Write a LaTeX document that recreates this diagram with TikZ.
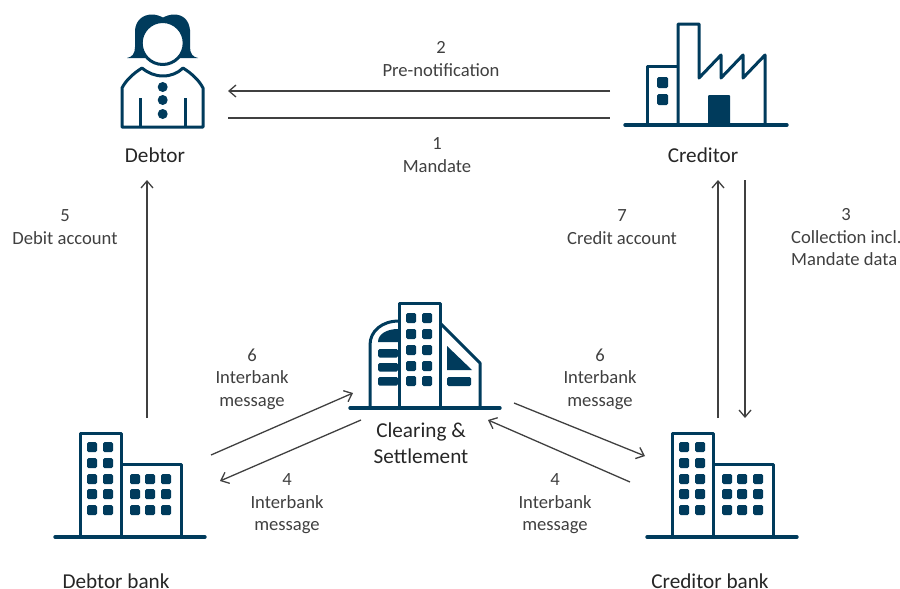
\documentclass[tikz,border=0pt]{standalone}
\usepackage{fontspec}
\setmainfont{Carlito}
\definecolor{iconblue}{HTML}{003B5C}
\definecolor{labelgray}{HTML}{404040}
\definecolor{flowgray}{HTML}{404040}
\tikzset{
    icon/.style = {draw=iconblue, line width=3pt, line join=round},
    ground/.style = {draw=iconblue, line width=3.4pt, line cap=round},
    pane/.style = {fill=iconblue, rounded corners=1.5pt},
    flow/.style = {draw=flowgray, line width=1.3pt, -{Straight Barb[length=7pt,width=12pt,line width=1.3pt]}},
    plainflow/.style = {draw=flowgray, line width=1.3pt},
    lbl/.style = {align=center, text=labelgray, inner sep=0pt, font=\fontsize{18.6}{22.5}\selectfont},
    actor/.style = {text=black!85, inner sep=0pt, font=\fontsize{21.2}{26}\selectfont},
    bank/.pic = {
        \draw[icon] (80,537) -- (80,433) -- (121,433) -- (121,537);
        \draw[icon] (121,464) -- (181,464) -- (181,537);
        \draw[ground] (55,537) -- (205,537);
        \foreach \x in {92,108}
            \foreach \y in {447,463,479,494,510}
                \fill[pane] (\x-5,\y-5) rectangle (\x+5,\y+5);
        \foreach \x in {135,150,166}
            \foreach \y in {479,494,510}
                \fill[pane] (\x-5,\y-5) rectangle (\x+5,\y+5);
    }
}
\usetikzlibrary{arrows.meta}
\begin{document}
\begin{tikzpicture}[x=1pt, y=-1pt]
    \useasboundingbox (0,0) rectangle (900,589);

    % debtor
    \fill[iconblue] (127,58) .. controls (132,57) and (135,54) .. (135,47) -- (135,30)
        .. controls (136,20) and (143,14.5) .. (152,14.5) .. controls (156,14.5) and (160,16) .. (163,17.5)
        .. controls (166,16) and (170,14.5) .. (174,14.5) .. controls (183,14.5) and (189,20) .. (190,30)
        -- (190,47) .. controls (190,54) and (193,57) .. (198,58) -- cycle;
    \draw[icon, fill=white] (162.7,43) circle (21.5);
    \draw[icon] (122,127) -- (122,88) .. controls (126,80) and (134,73) .. (142,68)
        .. controls (148,73) and (155,76) .. (163,76) .. controls (171,76) and (178,73) .. (183,68)
        .. controls (191,73) and (199,80) .. (203,88) -- (203,127) -- cycle;
    \draw[icon] (140,98) -- (140,127);
    \draw[icon] (185,98) -- (185,127);
    \foreach \y in {87,100,114}
        \fill[iconblue] (162.7,\y) circle (5);

    % creditor
    \draw[icon] (647,125) -- (647,66) -- (678,66);
    \draw[icon] (678,125) -- (678,24) -- (699,24) -- (699,78) -- (721,55) -- (721,78) -- (743,55)
        -- (743,78) -- (765,55) -- (765,125);
    \draw[ground] (625,125) -- (787,125);
    \fill[pane] (657,77) rectangle (668,88);
    \fill[pane] (657,94) rectangle (668,105);
    \fill[iconblue, rounded corners=1pt] (708,125) -- (708,95) -- (730,95) -- (730,125) -- cycle;

    % clearing house
    \draw[icon] (370,408) -- (370,345) .. controls (370,331) and (382,321) .. (399,321);
    \draw[icon] (399,408) -- (399,303) -- (440,303) -- (440,408);
    \draw[icon] (440,323) -- (480,363) -- (480,408);
    \draw[ground] (350,408) -- (500,408);
    \foreach \x in {411,427}
        \foreach \y in {318,334,350,366,381}
            \fill[pane] (\x-5,\y-5) rectangle (\x+5,\y+5);
    \fill[iconblue] (378,342) .. controls (378,334) and (387,329) .. (398,329) -- (398,342) -- cycle;
    \foreach \y in {349,363,377}
        \fill[pane] (378,\y) rectangle (398,\y+8.5);
    \fill[iconblue] (447,346) -- (472,370) -- (447,370) -- cycle;
    \fill[pane] (447,377) rectangle (471,386);

    % banks
    \pic (debtorbank) at (0,0) {bank};
    \pic (creditorbank) at (592,0) {bank};

    % names
    \node[actor] (debtor) at (155,155) {Debtor};
    \node[actor] (creditor) at (703,155) {Creditor};
    \node[actor] (debtorname) at (116,581) {Debtor bank};
    \node[actor] (creditorname) at (710,581) {Creditor bank};
    \node[actor, align=center] (clearing) at (421,443) {Clearing \&\\Settlement};

    % step labels
    \node[lbl] (prenote) at (441,59) {2\\Pre-notification};
    \node[lbl] (mandate) at (437,155) {1\\Mandate};
    \node[lbl] (debit) at (65,227) {5\\Debit account};
    \node[lbl] (credit) at (622,227) {7\\Credit account};
    \node[lbl] (collnum) at (846,215) {3};
    \node[lbl, align=left, anchor=west] (collection) at (791,248) {Collection incl.\\Mandate data};
    \node[lbl] (msgsixl) at (252,379) {6\\Interbank\\message};
    \node[lbl] (msgfourl) at (287,504) {4\\Interbank\\message};
    \node[lbl] (msgsixr) at (600,379) {6\\Interbank\\message};
    \node[lbl] (msgfourr) at (555,504) {4\\Interbank\\message};

    % connector ends
    \coordinate (credleft) at (610,91);
    \coordinate (debtright) at (228,91);
    \coordinate (debtlow) at (228,118);
    \coordinate (credlow) at (610,118);
    \coordinate (dbankup) at (147,418);
    \coordinate (debtdown) at (147,180);
    \coordinate (cbankup) at (718,418);
    \coordinate (credup) at (718,180);
    \coordinate (creddown) at (745,180);
    \coordinate (cbankdown) at (745,418);
    \coordinate (dbankout) at (211,455);
    \coordinate (clearin) at (353,393);
    \coordinate (clearout) at (361,420);
    \coordinate (dbankin) at (220,481);
    \coordinate (clearoutr) at (514,403);
    \coordinate (cbankin) at (645,456);
    \coordinate (cbankout) at (630,482);
    \coordinate (clearinr) at (488,420);

    \draw[flow] (credleft) -- (debtright);
    \draw[plainflow] (debtlow) -- (credlow);
    \draw[flow] (dbankup) -- (debtdown);
    \draw[flow] (cbankup) -- (credup);
    \draw[flow] (creddown) -- (cbankdown);
    \draw[flow] (dbankout) -- (clearin);
    \draw[flow] (clearout) -- (dbankin);
    \draw[flow] (clearoutr) -- (cbankin);
    \draw[flow] (cbankout) -- (clearinr);
\end{tikzpicture}
\end{document}
